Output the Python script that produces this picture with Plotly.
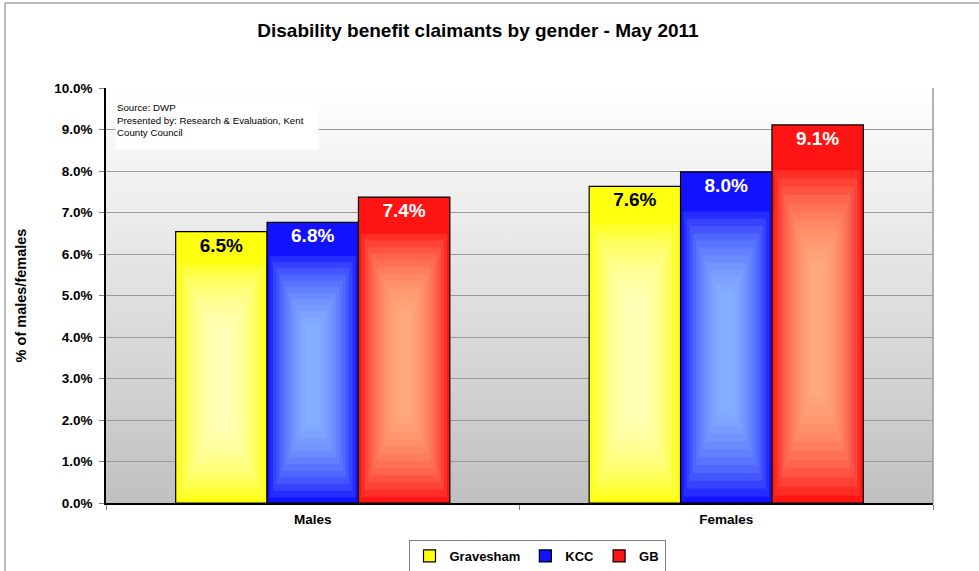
import base64
import plotly.graph_objects as go

# ---------------- data ----------------
categories = ["Males", "Females"]
series_names = ["Gravesham", "KCC", "GB"]
gravesham = [6.54, 7.63]
kcc = [6.76, 7.98]
gb = [7.37, 9.11]
y_tick_vals = [0, 1, 2, 3, 4, 5, 6, 7, 8, 9, 10]
y_tick_text = ["0.0%", "1.0%", "2.0%", "3.0%", "4.0%", "5.0%", "6.0%", "7.0%", "8.0%", "9.0%", "10.0%"]

series_values = [gravesham, kcc, gb]

# ---------------- style ----------------
edge_colors = ["#FFFF10", "#1212FF", "#FF1414"]
core_colors = ["#FFFFDC", "#9CCCFF", "#FFC898"]
label_colors = ["black", "white", "white"]
FONT = "Liberation Sans, Arial, sans-serif"
bar_w = 0.221
offsets = [-1.5 * bar_w + i * bar_w for i in range(3)]

# glow layers (width fraction, bottom fraction, top fraction)
N_LAYERS = 12
layers = []
for k in range(N_LAYERS):
    s = k / (N_LAYERS - 1)
    layers.append((0.94 - 0.78 * s, 0.02 + 0.26 * s, 0.88 - 0.24 * s))

fig = go.Figure()

for i, name in enumerate(series_names):
    vals = series_values[i]
    fig.add_trace(go.Bar(
        name=name,
        x=categories,
        y=vals,
        width=bar_w,
        offset=offsets[i],
        marker=dict(color=edge_colors[i], line=dict(color="black", width=1.2)),
        text=[f"{v:.1f}%" for v in vals],
        textposition="inside",
        insidetextanchor="end",
        textangle=0,
        textfont=dict(family=FONT, size=19, color=label_colors[i], weight="bold"),
        hovertemplate=name + ": %{y:.1f}%<extra></extra>",
    ))
    for (f, b, t) in layers:
        fig.add_trace(go.Bar(
            x=categories,
            y=[v * (t - b) for v in vals],
            base=[v * b for v in vals],
            width=bar_w * f,
            offset=offsets[i] + bar_w * (1 - f) / 2,
            marker=dict(color=core_colors[i], opacity=0.14, line=dict(width=0)),
            showlegend=False,
            hoverinfo="skip",
        ))

# background gradient for the plot area
svg = ('<svg xmlns="http://www.w3.org/2000/svg" width="10" height="100" viewBox="0 0 10 100" '
       'preserveAspectRatio="none"><defs><linearGradient id="g" x1="0" y1="0" x2="0" y2="1">'
       '<stop offset="0" stop-color="#ffffff"/><stop offset="1" stop-color="#c0c0c0"/>'
       '</linearGradient></defs><rect width="10" height="100" fill="url(#g)"/></svg>')
bg_src = "data:image/svg+xml;base64," + base64.b64encode(svg.encode()).decode()

fig.update_layout(
    width=979,
    height=571,
    barmode="overlay",
    paper_bgcolor="white",
    plot_bgcolor="rgba(0,0,0,0)",
    margin=dict(l=106, r=46, t=88, b=68, autoexpand=False),
    font=dict(family=FONT, color="black"),
    title=dict(
        text="Disability benefit claimants by gender - May 2011",
        font=dict(family=FONT, size=19, color="black", weight="bold"),
        x=478 / 979, xref="container", xanchor="center",
        y=1 - 30 / 571, yref="container", yanchor="middle",
    ),
    xaxis=dict(
        type="category",
        range=[-0.5, 1.5],
        showline=True, linecolor="black", linewidth=2,
        ticks="outside", tickson="boundaries", ticklen=5, tickcolor="#808080",
        ticklabelstandoff=3,
        tickfont=dict(family=FONT, size=13.5, color="black", weight="bold"),
        showgrid=False,
    ),
    yaxis=dict(
        range=[0, 10],
        tickvals=y_tick_vals,
        ticktext=y_tick_text,
        showline=True, linecolor="black", linewidth=1.5,
        ticks="outside", ticklen=5, tickcolor="#808080",
        ticklabelstandoff=4,
        tickfont=dict(family=FONT, size=13.5, color="black", weight="bold"),
        showgrid=True, gridcolor="#9a9a9a", gridwidth=1,
        zeroline=False,
        title=dict(text="% of males/females", standoff=24,
                   font=dict(family=FONT, size=14.5, color="black", weight="bold")),
    ),
    legend=dict(
        orientation="h",
        x=537 / 979, xref="container", xanchor="center",
        y=1 - 540 / 571, yref="container", yanchor="top",
        bordercolor="#808080", borderwidth=1, bgcolor="white",
        font=dict(family=FONT, size=13, color="black", weight="bold"),
        itemwidth=30, tracegroupgap=0,
    ),
    images=[dict(
        source=bg_src, xref="paper", yref="paper", x=0, y=1, sizex=1, sizey=1,
        xanchor="left", yanchor="top", sizing="stretch", layer="below",
    )],
    shapes=[
        # right border of the plot area
        dict(type="line", xref="paper", yref="paper", x0=1, x1=1, y0=0, y1=1,
             line=dict(color="#9a9a9a", width=1.5)),
        # outer chart frame (extends past the visible page on right/bottom)
        dict(type="rect", xref="paper", yref="paper",
             x0=(5 - 106) / 827, x1=2.0, y0=-2.0, y1=(503 - 3) / 415,
             line=dict(color="#a8a8a8", width=1.5)),
    ],
    annotations=[dict(
        text="Source: DWP<br>Presented by: Research &amp; Evaluation, Kent<br>County Council",
        xref="paper", yref="paper",
        x=(115 - 106) / 827, y=(503 - 100) / 415,
        xanchor="left", yanchor="top",
        align="left", valign="top",
        width=200, height=46,
        bgcolor="white", borderpad=1, showarrow=False,
        font=dict(family=FONT, size=9.7, color="black"),
    )],
)

fig.write_html("out.html", config={"displayModeBar": False},
               post_script="document.body.style.margin='0';")
